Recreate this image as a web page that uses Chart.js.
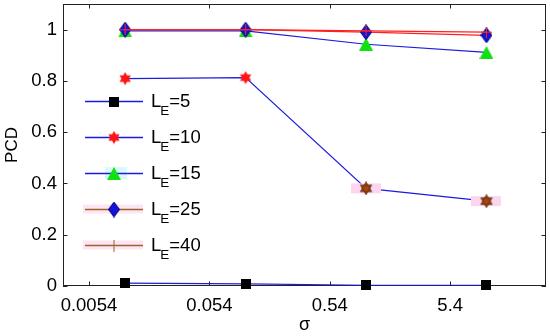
<!DOCTYPE html>
<html><head><meta charset="utf-8">
<script src="https://cdn.jsdelivr.net/npm/chart.js@4/dist/chart.umd.min.js"></script>
<style>html,body{margin:0;padding:0;background:#fff}</style>
</head><body>
<canvas id="c" width="550" height="336"></canvas>
<script>
// ---- data ----
const sigma = [0.0108, 0.108, 1.08, 10.8];
const xTickValues = [0.0054, 0.054, 0.54, 5.4];
const xTickLabels = ['0.0054', '0.054', '0.54', '5.4'];
const yTickValues = [0, 0.2, 0.4, 0.6, 0.8, 1];
const seriesLabels = ['5', '10', '15', '25', '40'];
const pcdLE5 = [0.011, 0.008, 0.003, 0.003];
const pcdLE10 = [0.809, 0.813, 0.381, 0.331];
const pcdLE15 = [0.995, 0.995, 0.943, 0.911];
const pcdLE25 = [1.0, 1.0, 0.99, 0.978];
const pcdLE40 = [1.0, 1.0, 0.995, 0.99];

const FONT = "'Liberation Sans', Arial, Helvetica, sans-serif";
const BLUE = '#1c1cdc', RED = '#ff2020', BROWN = '#a0602c';

function mk(w, h, draw) { const c = document.createElement('canvas'); c.width = w; c.height = h; draw(c.getContext('2d'), w, h); return c; }
function hexagram(g, cx, cy, r, fill, stroke) {
  g.beginPath();
  for (let k = 0; k < 2; k++) {
    for (let i = 0; i < 3; i++) {
      const a = -Math.PI / 2 + k * Math.PI + i * 2 * Math.PI / 3;
      const px = cx + r * Math.cos(a), py = cy + r * Math.sin(a);
      if (i === 0) g.moveTo(px, py); else g.lineTo(px, py);
    }
    g.closePath();
  }
  g.fillStyle = fill; g.fill('nonzero');
  if (stroke) { g.strokeStyle = stroke; g.lineWidth = 0.8; g.stroke(); }
}
const mSquare = mk(10, 10, (g, w, h) => { g.fillStyle = '#000'; g.fillRect(0, 0, w, h); });
const mRedStar = mk(14, 14, (g) => hexagram(g, 7, 7, 6.5, '#ff1414'));
const mBrownStar = mk(30, 14, (g) => { g.fillStyle = '#fbd6ee'; g.fillRect(0, 2, 30, 10); hexagram(g, 15, 7, 6.5, '#a8420e', '#5a3010'); });
const mTriangle = mk(14, 13, (g, w, h) => { g.beginPath(); g.moveTo(w / 2, 0); g.lineTo(w, h); g.lineTo(0, h); g.closePath(); g.fillStyle = '#12e012'; g.fill(); });
const mDiamond = mk(12, 16, (g, w, h) => { g.beginPath(); g.moveTo(w / 2, 0.5); g.lineTo(w - 0.5, h / 2); g.lineTo(w / 2, h - 0.5); g.lineTo(0.5, h / 2); g.closePath(); g.fillStyle = '#1414d8'; g.fill(); g.strokeStyle = '#00007a'; g.lineWidth = 1; g.stroke(); });
const mCross = mk(11, 11, (g) => { g.strokeStyle = RED; g.lineWidth = 1; g.beginPath(); g.moveTo(5.5, 0); g.lineTo(5.5, 11); g.moveTo(0, 5.5); g.lineTo(11, 5.5); g.stroke(); });
const mTick = mk(3, 12, (g) => { g.fillStyle = BROWN; g.fillRect(1, 0, 1, 12); });

function pts(arr) { return sigma.map((x, i) => ({ x: x, y: arr[i] })); }

const datasets = [
  { label: 'LE=' + seriesLabels[0], data: pts(pcdLE5), borderColor: BLUE, pointStyle: mSquare, order: 4 },
  { label: 'LE=' + seriesLabels[1], data: pts(pcdLE10), borderColor: BLUE, pointStyle: [mRedStar, mRedStar, mBrownStar, mBrownStar], order: 3 },
  { label: 'LE=' + seriesLabels[2], data: pts(pcdLE15), borderColor: BLUE, pointStyle: mTriangle, order: 2 },
  { label: 'LE=' + seriesLabels[3], data: pts(pcdLE25), borderColor: RED, pointStyle: mDiamond, order: 1 },
  { label: 'LE=' + seriesLabels[4], data: pts(pcdLE40), borderColor: RED, pointStyle: mCross, order: 0 }
].map(d => Object.assign({ borderWidth: 1.2, pointRadius: 1, pointBorderWidth: 0, tension: 0, clip: false, fill: false }, d));

const legendStyle = [
  { line: BLUE, marker: mSquare },
  { line: BLUE, marker: mRedStar },
  { line: BLUE, marker: mTriangle, bg: { color: '#d8fafa', w: 22, h: 12 } },
  { line: BROWN, marker: mDiamond, bg: { color: '#fde6f4', w: 60, h: 9 } },
  { line: BROWN, marker: mTick, bg: { color: '#fde6f4', w: 60, h: 9 } }
];

const frame = {
  id: 'frame',
  beforeDatasetsDraw(chart) {
    const { ctx, chartArea: a, scales: { x, y } } = chart;
    ctx.save();
    ctx.strokeStyle = '#222'; ctx.lineWidth = 1;
    ctx.strokeRect(a.left + 0.5, a.top + 0.5, a.right - a.left - 1, a.bottom - a.top - 1);
    ctx.beginPath();
    const L = 4.5;
    xTickValues.forEach(v => { const px = Math.round(x.getPixelForValue(v)) + 0.5; ctx.moveTo(px, a.bottom); ctx.lineTo(px, a.bottom - L); ctx.moveTo(px, a.top); ctx.lineTo(px, a.top + L); });
    yTickValues.forEach(v => { const py = Math.round(y.getPixelForValue(v)) + 0.5; ctx.moveTo(a.left, py); ctx.lineTo(a.left + L, py); ctx.moveTo(a.right, py); ctx.lineTo(a.right - L, py); });
    ctx.stroke();
    ctx.restore();
  },
  afterDatasetsDraw(chart) {
    const { ctx } = chart;
    ctx.save();
    const x0 = 85, x1 = 143, xm = 114, tx = 151;
    seriesLabels.forEach((lab, i) => {
      const yy = 101 + i * 36;
      const st = legendStyle[i];
      if (st.bg) { ctx.fillStyle = st.bg.color; ctx.fillRect(xm - st.bg.w / 2 + (st.bg.w > 30 ? -1 : 2), yy - st.bg.h / 2, st.bg.w, st.bg.h); }
      ctx.strokeStyle = st.line; ctx.lineWidth = 1.3;
      ctx.beginPath(); ctx.moveTo(x0, yy + 0.5); ctx.lineTo(x1, yy + 0.5); ctx.stroke();
      ctx.drawImage(st.marker, xm - st.marker.width / 2, yy - st.marker.height / 2 + 0.5);
      ctx.fillStyle = '#000'; ctx.textBaseline = 'alphabetic'; ctx.textAlign = 'left';
      const base = yy + 6;
      ctx.font = '18.5px ' + FONT;
      ctx.fillText('L', tx, base);
      let cx = tx + ctx.measureText('L').width;
      ctx.font = '13.5px ' + FONT;
      ctx.fillText('E', cx - 1, base + 8);
      cx += ctx.measureText('E').width - 1;
      ctx.font = '18.5px ' + FONT;
      ctx.fillText('=' + lab, cx, base);
    });
    ctx.restore();
  }
};

new Chart(document.getElementById('c'), {
  type: 'line',
  data: { datasets },
  options: {
    responsive: false, animation: false, devicePixelRatio: 1, events: [],
    layout: { padding: { top: 3, right: 3, left: 0, bottom: 0 } },
    plugins: { legend: { display: false }, tooltip: { enabled: false } },
    scales: {
      x: {
        type: 'logarithmic', min: 0.00329, max: 33.7,
        grid: { display: false, drawTicks: false }, border: { display: false },
        afterBuildTicks: s => { s.ticks = xTickValues.map(v => ({ value: v })); },
        afterFit: s => { s.height = 50; s.paddingLeft = 0; s.paddingRight = 0; s.paddingTop = 0; s.paddingBottom = 0; },
        ticks: { color: '#000', padding: 9, maxRotation: 0, autoSkip: false, font: { family: FONT, size: 18.5 }, callback: (v, i) => xTickLabels[i] },
        title: { display: true, text: 'σ', color: '#000', font: { family: FONT, size: 18 }, padding: { top: 0, bottom: 0 } }
      },
      y: {
        type: 'linear', min: 0, max: 1.1,
        grid: { display: false, drawTicks: false }, border: { display: false },
        afterBuildTicks: s => { s.ticks = yTickValues.map(v => ({ value: v })); },
        afterFit: s => { s.width = 63; s.paddingLeft = 0; s.paddingRight = 0; s.paddingTop = 0; s.paddingBottom = 0; },
        ticks: { color: '#000', padding: 6, autoSkip: false, font: { family: FONT, size: 18.5 }, callback: v => String(v) },
        title: { display: true, text: 'PCD', color: '#000', font: { family: FONT, size: 17 }, padding: { top: 2, bottom: 0 } }
      }
    }
  },
  plugins: [frame]
});
</script>
</body></html>
